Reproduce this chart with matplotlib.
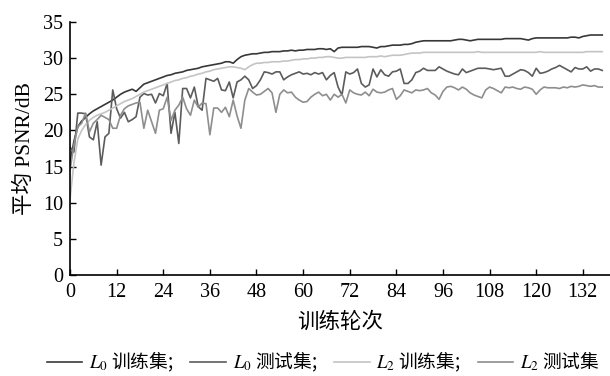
import numpy as np
import matplotlib
matplotlib.use("Agg")
import matplotlib.pyplot as plt

plt.rcParams['font.family'] = ['Liberation Serif', 'Noto Sans CJK SC']
plt.rcParams['mathtext.fontset'] = 'stix'
plt.rcParams['font.size'] = 14

# ------------ data -------------------------------------
l0_train = [15.5, 18.5, 20.5, 21.3, 21.8, 22.3, 22.7, 23.0, 23.3, 23.6,
            23.9, 24.2, 24.6, 25.0, 25.3, 25.5, 25.7, 25.4, 25.9, 26.4,
            26.6, 26.8, 27.0, 27.2, 27.4, 27.6, 27.7, 27.9, 28.0, 28.1,
            28.3, 28.4, 28.5, 28.6, 28.8, 28.9, 29.0, 29.1, 29.2, 29.3,
            29.5, 29.5, 29.3, 29.8, 30.2, 30.4, 30.5, 30.6, 30.6, 30.7,
            30.8, 30.8, 30.9, 30.9, 30.9, 31.0, 31.0, 31.1, 31.0, 31.1,
            31.1, 31.2, 31.2, 31.2, 31.3, 31.3, 31.2, 31.3, 30.9, 31.4,
            31.5, 31.5, 31.5, 31.5, 31.5, 31.6, 31.6, 31.6, 31.5, 31.4,
            31.6, 31.6, 31.7, 31.8, 31.8, 31.8, 31.9, 31.9, 32.0, 32.2,
            32.3, 32.4, 32.4, 32.4, 32.4, 32.4, 32.4, 32.4, 32.4, 32.5,
            32.6, 32.6, 32.5, 32.4, 32.5, 32.6, 32.6, 32.6, 32.6, 32.6,
            32.6, 32.6, 32.7, 32.7, 32.7, 32.7, 32.7, 32.6, 32.5, 32.7,
            32.8, 32.8, 32.8, 32.8, 32.8, 32.8, 32.8, 32.8, 32.8, 32.9,
            32.9, 32.8, 33.0, 33.1, 33.2, 33.2, 33.2, 33.2]

l0_test = [17.7, 17.0, 22.4, 22.4, 22.3, 19.1, 18.7, 21.2, 15.2, 19.1,
           19.6, 25.6, 23.0, 21.7, 22.5, 21.2, 21.5, 21.9, 24.6, 25.1,
           24.9, 25.0, 23.8, 25.1, 24.8, 26.5, 19.6, 22.5, 18.2, 25.8,
           25.8, 24.5, 26.0, 23.3, 22.8, 27.2, 27.0, 26.8, 27.2, 25.6,
           25.5, 26.7, 24.5, 26.7, 27.0, 27.5, 27.0, 25.8, 26.2, 27.0,
           28.1, 28.0, 27.8, 28.1, 28.1, 27.0, 27.4, 27.7, 27.9, 28.1,
           27.8, 27.9, 27.7, 28.0, 27.8, 28.0, 27.0, 27.6, 28.0, 26.0,
           24.9, 28.1, 27.8, 28.0, 28.5, 26.5, 26.0, 26.3, 28.5, 27.4,
           28.4, 27.7, 27.5, 28.1, 28.2, 28.5, 26.5, 26.5, 27.0, 28.0,
           28.2, 28.6, 28.3, 28.3, 28.3, 28.8, 28.5, 28.2, 28.0, 27.8,
           27.7, 28.5, 28.0, 28.2, 28.4, 28.6, 28.6, 28.6, 28.5, 28.4,
           28.5, 28.6, 27.5, 27.5, 27.8, 28.1, 28.4, 28.3, 28.0, 27.5,
           28.6, 27.9, 28.0, 28.2, 28.5, 28.7, 29.0, 28.7, 28.4, 28.1,
           28.7, 28.5, 28.5, 28.8, 28.2, 28.5, 28.5, 28.3]

l2_train = [10.5, 15.5, 18.8, 20.0, 20.8, 21.4, 21.8, 22.1, 22.3, 22.5,
            22.8, 23.1, 23.4, 23.7, 24.0, 24.2, 24.4, 24.7, 25.0, 25.3,
            25.5, 25.7, 25.9, 26.1, 26.3, 26.5, 26.7, 26.9, 27.0, 27.2,
            27.3, 27.5, 27.6, 27.8, 27.9, 28.1, 28.2, 28.4, 28.5, 28.6,
            28.7, 28.8, 28.8, 28.7, 28.6, 28.4, 28.8, 29.1, 29.3, 29.3,
            29.4, 29.4, 29.5, 29.5, 29.5, 29.6, 29.6, 29.7, 29.8, 29.8,
            29.9, 29.9, 30.0, 30.0, 30.1, 30.1, 30.2, 30.2, 30.1, 30.0,
            30.0, 30.1, 30.1, 30.1, 30.1, 30.1, 30.1, 30.2, 30.2, 30.2,
            30.3, 30.2, 30.3, 30.4, 30.4, 30.4, 30.5, 30.6, 30.7, 30.7,
            30.7, 30.8, 30.8, 30.8, 30.8, 30.8, 30.8, 30.8, 30.8, 30.8,
            30.8, 30.8, 30.8, 30.8, 30.8, 30.9, 30.8, 30.8, 30.8, 30.8,
            30.8, 30.8, 30.8, 30.8, 30.8, 30.8, 30.8, 30.8, 30.8, 30.8,
            30.8, 30.9, 30.8, 30.8, 30.8, 30.8, 30.8, 30.8, 30.8, 30.8,
            30.8, 30.8, 30.8, 30.9, 30.9, 30.9, 30.9, 30.9]

l2_test = [14.5, 18.0, 20.5, 21.0, 22.4, 19.8, 21.0, 21.5, 22.1, 21.8,
           21.5, 20.3, 20.3, 22.1, 23.0, 23.4, 23.6, 23.8, 23.9, 20.3,
           22.8, 21.2, 19.6, 22.8, 23.0, 24.6, 21.4, 22.8, 23.5, 24.6,
           23.0, 22.1, 24.2, 23.2, 23.8, 23.7, 19.4, 23.1, 23.1, 22.5,
           23.2, 21.9, 24.2, 22.0, 20.3, 24.2, 25.8, 25.3, 24.9, 25.0,
           25.4, 25.8, 25.2, 22.5, 25.0, 25.6, 25.2, 25.3, 24.6, 24.2,
           23.9, 24.0, 24.6, 25.0, 25.3, 24.8, 25.0, 24.2, 25.0, 24.6,
           25.0, 23.8, 25.6, 25.2, 25.0, 24.9, 25.3, 24.8, 25.7, 25.3,
           25.2, 25.3, 25.6, 25.8, 24.3, 24.8, 25.6, 25.4, 25.2, 25.6,
           25.5, 25.6, 25.8, 25.2, 24.9, 24.3, 25.4, 26.0, 26.1, 25.9,
           25.6, 26.0, 25.7, 25.2, 24.9, 24.7, 24.5, 25.6, 26.0, 25.8,
           25.5, 25.2, 26.0, 25.9, 26.0, 25.8, 25.7, 26.0, 25.9, 25.7,
           25.0, 25.6, 26.0, 25.9, 25.9, 25.9, 25.8, 26.0, 25.9, 26.1,
           26.0, 26.1, 26.3, 26.2, 26.1, 26.2, 26.0, 26.0]

labels = [r'$L_0$ 训练集;', r'$L_0$ 测试集;', r'$L_2$ 训练集;', r'$L_2$ 测试集']
colors = ['#383838', '#5c5c5c', '#c4c4c4', '#8e8e8e']
x_ticks = np.arange(0, 133, 12)
y_ticks = np.arange(0, 36, 5)
# --------------------------------------------------------

epochs = np.arange(len(l0_train))

fig = plt.figure(figsize=(6.1, 3.76), dpi=100)
ax = fig.add_axes([0.1148, 0.2686, 0.8852, 0.6729])

for series, lab, col in zip([l0_train, l0_test, l2_train, l2_test], labels, colors):
    ax.plot(epochs, series, color=col, lw=1.2, label=lab)

ax.set_xlim(0, 139)
ax.set_ylim(0, 35)
ax.set_xticks(x_ticks)
ax.set_yticks(y_ticks)
ax.tick_params(direction='in', length=4, width=1, labelsize=14.5)
ax.tick_params(axis='x', pad=6)
ax.tick_params(axis='y', pad=5)
ax.spines['top'].set_visible(False)
ax.spines['right'].set_visible(False)
for s in ['left', 'bottom']:
    ax.spines[s].set_linewidth(1.2)

ax.set_xlabel('训练轮次', fontsize=15.5, labelpad=7)
ax.set_ylabel('平均 PSNR/dB', fontsize=15.5, labelpad=6)

# the non-math part of a mathtext label uses the text's own font, so give it the CJK face
fig.legend(loc='center', bbox_to_anchor=(0.53, 0.038), ncol=4,
           frameon=False, handlelength=1.9, handletextpad=0.35,
           columnspacing=0.9, prop={'family': 'Noto Sans CJK SC', 'size': 13.5})

fig.savefig('out.png', dpi=100)
